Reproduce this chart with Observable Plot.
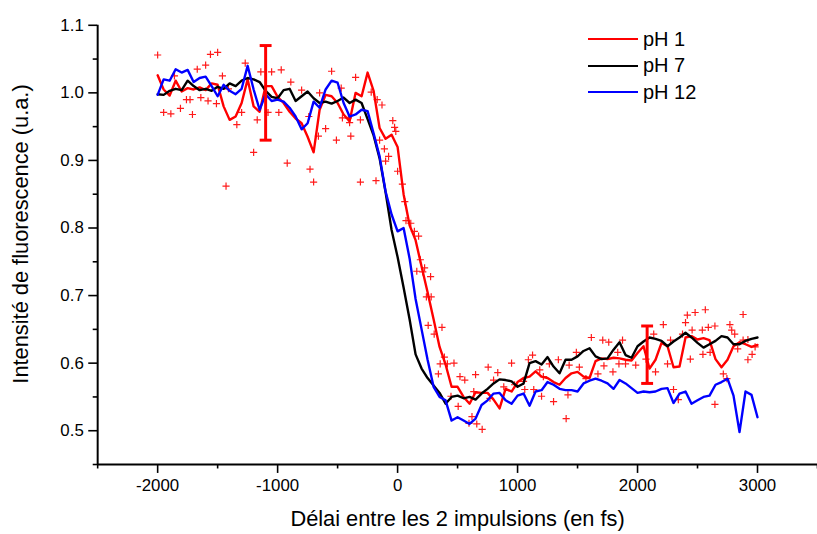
<!DOCTYPE html>
<html><head><meta charset="utf-8">
<script src="https://cdn.jsdelivr.net/npm/d3@7"></script>
<script src="https://cdn.jsdelivr.net/npm/@observablehq/plot@0.6"></script>
<style>
body{margin:0;background:#fff;font-family:"Liberation Sans",Arial,sans-serif;}
#wrap{position:relative;width:817px;height:534px;overflow:hidden;background:#fff;}
#legend{position:absolute;left:588px;top:26px;font-size:20px;color:#000;}
.row{display:flex;align-items:center;height:26.5px;}
.sw{width:50px;height:2px;margin-right:5px;}
</style></head><body><div id="wrap"><div id="legend"></div></div>
<script>
const delays = [-2000,-1950,-1900,-1850,-1800,-1750,-1700,-1650,-1600,-1550,-1500,-1450,-1400,-1350,-1300,-1250,-1200,-1150,-1100,-1050,-1000,-950,-900,-850,-800,-750,-700,-650,-600,-550,-500,-450,-400,-350,-300,-250,-200,-150,-100,-50,0,50,100,150,200,250,300,350,400,450,500,550,600,650,700,750,800,850,900,950,1000,1050,1100,1150,1200,1250,1300,1350,1400,1450,1500,1550,1600,1650,1700,1750,1800,1850,1900,1950,2000,2050,2100,2150,2200,2250,2300,2350,2400,2450,2500,2550,2600,2650,2700,2750,2800,2850,2900,2950,3000];
const ph1 = [1.026,1.005,0.996,1.018,1.002,1.007,1.005,1.008,1.004,1.014,1.012,0.980,0.960,0.965,0.985,1.020,0.980,0.972,1.010,1.010,0.994,0.985,0.972,0.962,0.955,0.935,0.912,0.975,0.997,0.995,0.985,0.968,0.958,1.000,0.995,1.030,1.003,0.948,0.932,0.938,0.920,0.850,0.804,0.782,0.743,0.705,0.665,0.624,0.598,0.565,0.565,0.550,0.540,0.557,0.556,0.556,0.546,0.533,0.562,0.558,0.572,0.578,0.580,0.588,0.580,0.578,0.572,0.568,0.578,0.585,0.587,0.580,0.578,0.603,0.607,0.606,0.608,0.607,0.605,0.604,0.615,0.625,0.592,0.605,0.630,0.625,0.594,0.595,0.638,0.640,0.635,0.637,0.634,0.606,0.594,0.605,0.625,0.631,0.628,0.624,0.627];
const ph7 = [0.998,0.997,1.003,1.006,1.004,1.018,1.010,1.004,1.006,1.003,1.009,1.006,1.014,1.010,1.018,1.022,1.020,1.016,1.003,0.994,0.992,1.004,1.006,0.988,0.995,1.002,0.992,0.985,0.987,0.984,0.988,0.993,0.985,0.990,0.985,0.961,0.937,0.903,0.853,0.797,0.757,0.712,0.665,0.613,0.592,0.578,0.567,0.556,0.540,0.550,0.552,0.548,0.550,0.546,0.555,0.562,0.570,0.576,0.575,0.573,0.565,0.570,0.600,0.603,0.598,0.609,0.595,0.585,0.605,0.605,0.610,0.618,0.622,0.610,0.606,0.607,0.620,0.631,0.612,0.608,0.625,0.632,0.638,0.636,0.633,0.625,0.632,0.638,0.645,0.638,0.630,0.623,0.628,0.633,0.640,0.638,0.628,0.628,0.633,0.636,0.638];
const ph12 = [0.997,1.020,1.018,1.035,1.030,1.034,1.016,1.022,1.024,1.010,0.995,1.012,1.003,0.998,1.006,1.040,1.005,0.975,0.998,0.988,0.990,0.987,0.978,0.965,0.946,0.955,0.987,0.978,1.005,1.018,1.015,0.985,0.965,0.968,0.975,0.973,0.940,0.906,0.854,0.820,0.795,0.800,0.755,0.695,0.650,0.605,0.565,0.550,0.545,0.515,0.520,0.515,0.510,0.518,0.538,0.545,0.555,0.556,0.545,0.540,0.552,0.555,0.537,0.558,0.560,0.572,0.568,0.562,0.560,0.560,0.558,0.570,0.574,0.577,0.574,0.570,0.562,0.575,0.570,0.563,0.556,0.558,0.557,0.558,0.562,0.563,0.541,0.555,0.558,0.540,0.545,0.550,0.552,0.568,0.572,0.577,0.552,0.498,0.558,0.553,0.520];
const scatterT = [-2000,-1950,-1890,-1860,-1810,-1760,-1730,-1710,-1670,-1600,-1560,-1500,-1640,-1580,-1510,-1460,-1410,-1430,-1340,-1300,-1270,-1200,-1170,-1140,-1050,-970,-890,-920,-990,-1080,-800,-740,-730,-700,-660,-650,-600,-550,-510,-460,-390,-350,-410,-470,-400,-310,-310,-180,-220,-170,-130,-40,-25,-15,-150,-110,-75,-100,0,40,60,70,110,140,175,190,225,160,210,275,240,280,255,370,305,390,355,470,340,415,520,560,650,505,445,635,620,595,660,705,755,835,800,770,950,885,975,1050,1060,1090,1135,1125,1185,1215,1200,1300,1265,1405,1340,1430,1515,1490,1615,1710,1760,1835,1875,1670,1570,1420,1720,1795,1845,1900,1985,2150,2070,2135,2215,2275,2300,2340,2250,2375,2415,2400,2480,2565,2455,2540,2590,2645,2440,2545,2605,2645,2715,2745,2770,2785,2810,2835,2880,2920,2955,2980,2880,2920];
const scatterV = [1.056,0.971,0.969,1.025,0.977,0.990,0.990,0.968,1.035,1.041,1.057,1.060,0.993,0.988,0.984,1.025,1.006,0.862,0.953,0.971,1.044,0.912,0.960,1.031,1.031,1.034,1.016,0.896,0.971,0.971,1.004,0.965,0.887,0.868,0.936,1.000,0.947,1.032,0.930,0.963,0.936,1.023,0.963,1.007,0.956,0.960,0.868,0.870,1.001,0.990,0.982,0.959,0.949,0.943,0.930,0.917,0.906,0.899,0.884,0.865,0.839,0.811,0.807,0.795,0.788,0.753,0.741,0.736,0.735,0.728,0.698,0.698,0.656,0.653,0.643,0.609,0.599,0.600,0.584,0.599,0.580,0.575,0.583,0.536,0.551,0.558,0.521,0.511,0.510,0.502,0.594,0.586,0.575,0.548,0.600,0.565,0.568,0.573,0.561,0.605,0.561,0.612,0.590,0.580,0.551,0.543,0.599,0.518,0.605,0.597,0.594,0.616,0.638,0.634,0.631,0.616,0.634,0.584,0.577,0.553,0.596,0.587,0.599,0.599,0.597,0.587,0.606,0.643,0.657,0.634,0.561,0.546,0.599,0.643,0.671,0.660,0.675,0.679,0.649,0.649,0.653,0.655,0.606,0.613,0.616,0.539,0.584,0.577,0.657,0.649,0.643,0.621,0.672,0.605,0.613,0.624,0.634,0.635];
const errX = [-1100, 2080];
const errLow = [0.93, 0.57];
const errHigh = [1.07, 0.655];
const xTicks = [-2000,-1000,0,1000,2000,3000];
const xMinor = [-2500,-1500,-500,500,1500,2500,3500];
const yTicks = [0.5,0.6,0.7,0.8,0.9,1.0,1.1];
const yMinor = [0.45,0.55,0.65,0.75,0.85,0.95,1.05];
const seriesNames = ["pH 1","pH 7","pH 12"];
const seriesColors = ["#ff0000","#000000","#0000ff"];
const xLabel = "Délai entre les 2 impulsions (en fs)";
const yLabel = "Intensité de fluorescence (u.a.)";

const seriesValues = [ph1, ph7, ph12];
const lineRows = seriesValues.map(vals => delays.map((t, i) => ({t, v: vals[i]})));
const scatter = scatterT.map((t, i) => ({t, v: scatterV[i]}));
const errs = errX.map((t, i) => ({t, lo: errLow[i], hi: errHigh[i]}));

const plusSymbol = {draw(ctx, size){const r = Math.sqrt(size/Math.PI); ctx.moveTo(-r,0); ctx.lineTo(r,0); ctx.moveTo(0,-r); ctx.lineTo(0,r);}};
const capSymbol = {draw(ctx, size){const r = Math.sqrt(size/Math.PI); ctx.moveTo(-r,0); ctx.lineTo(r,0);}};

const chart = Plot.plot({
  width: 824, height: 534,
  marginLeft: 98, marginRight: 0, marginTop: 25, marginBottom: 66,
  x: {domain: [-2500, 3500]},
  y: {domain: [0.45, 1.1]},
  style: {fontFamily: '"Liberation Sans", Arial, sans-serif', fontSize: "17px", color: "#000", background: "#fff", overflow: "visible"},
  marks: [
    Plot.dot(scatter, {x: "t", y: "v", symbol: plusSymbol, r: 3.6, stroke: "#ff1a1a", strokeWidth: 1.2, fill: "none"}),
    ...lineRows.map((rows, k) => Plot.line(rows, {x: "t", y: "v", stroke: seriesColors[k], strokeWidth: 2.4})),
    Plot.ruleX(errs, {x: "t", y1: "lo", y2: "hi", stroke: "#ff0000", strokeWidth: 3}),
    Plot.dot(errs, {x: "t", y: "lo", symbol: capSymbol, r: 6, stroke: "#ff0000", strokeWidth: 3, fill: "none"}),
    Plot.dot(errs, {x: "t", y: "hi", symbol: capSymbol, r: 6, stroke: "#ff0000", strokeWidth: 3, fill: "none"}),
    Plot.axisX(xTicks, {tickSize: 9, tickPadding: 6, tickFormat: d => `${d}`, strokeWidth: 1.6, label: null, fontSize: 17}),
    Plot.axisX(xMinor, {tickSize: 4.5, tickFormat: () => "", strokeWidth: 1.6, label: null}),
    Plot.axisY(yTicks, {tickSize: 9, tickPadding: 5, tickFormat: d => d.toFixed(1), strokeWidth: 1.6, label: null, fontSize: 17}),
    Plot.axisY(yMinor, {tickSize: 4.5, tickFormat: () => "", strokeWidth: 1.6, label: null}),
    Plot.ruleX([-2500], {stroke: "#000", strokeWidth: 2}),
    Plot.ruleY([0.45], {stroke: "#000", strokeWidth: 2}),
    Plot.text([xLabel], {text: d => d, frameAnchor: "bottom", textAnchor: "middle", dy: 55, lineAnchor: "middle", fontSize: 22}),
    Plot.text([yLabel], {text: d => d, frameAnchor: "left", textAnchor: "middle", dx: -77, dy: -11, rotate: -90, lineAnchor: "middle", fontSize: 22})
  ]
});
const wrap = document.getElementById("wrap");
wrap.insertBefore(chart, wrap.firstChild);

const legend = document.getElementById("legend");
seriesNames.forEach((name, k) => {
  const row = document.createElement("div");
  row.className = "row";
  const sw = document.createElement("div");
  sw.className = "sw";
  sw.style.background = seriesColors[k];
  const label = document.createElement("span");
  label.textContent = name;
  row.appendChild(sw); row.appendChild(label);
  legend.appendChild(row);
});
</script>
</body></html>
